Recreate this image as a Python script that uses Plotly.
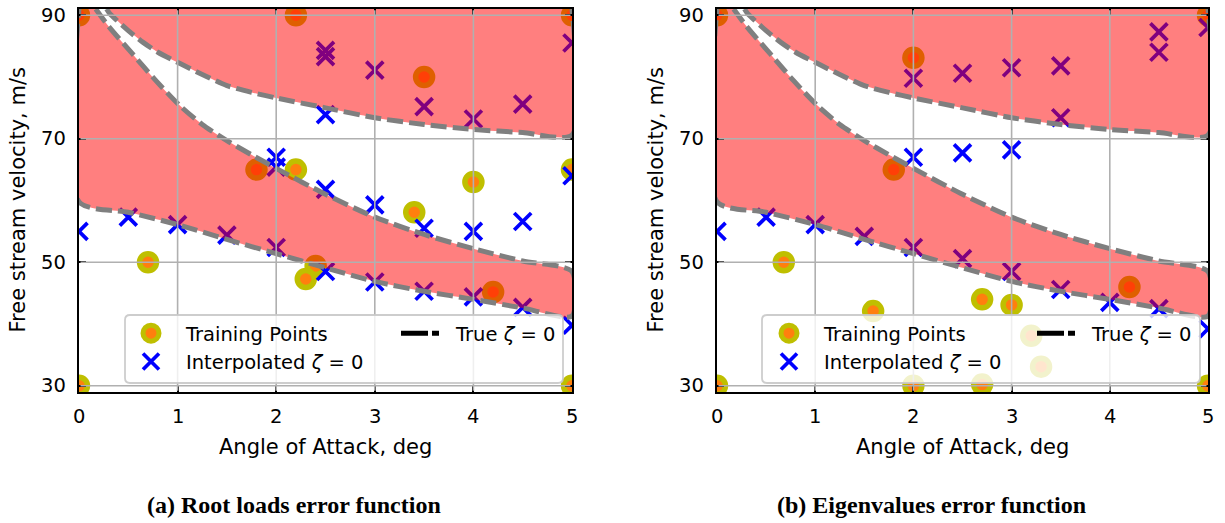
import plotly.graph_objects as go

W, H = 1225, 523

# ---------------- axes ----------------
x_ticks = [0, 1, 2, 3, 4, 5]
y_ticks = [30, 50, 70, 90]
x_range = [0, 5]
y_range = [29, 91]

# ---------------- true zeta = 0 curves ----------------
# upper branch A
a_x = [0.28, 0.31, 0.5, 0.65, 0.8, 1.02, 1.25, 1.5, 1.75, 2.0, 2.5, 3.0, 3.5, 4.0, 4.5, 5.0]
a_y = [91.0, 90.3, 87.5, 85.6, 84.0, 82.2, 80.4, 78.6, 77.5, 76.6, 75.0, 73.4, 72.3, 71.5, 71.0, 70.6]
# middle branch B
b_x = [0.17, 0.3, 0.55, 0.78, 1.02, 1.25, 1.5, 1.75, 2.0, 2.5, 3.0, 3.5, 4.0, 4.5, 5.0]
b_y = [91.0, 88.2, 83.6, 79.4, 75.4, 72.3, 69.7, 67.4, 65.2, 61.0, 57.3, 54.5, 52.2, 50.2, 48.5]
# lower branch C
c_x = [0.0, 0.5, 1.0, 1.5, 2.0, 2.5, 3.0, 3.5, 4.0, 4.5, 5.0]
c_y = [59.8, 58.1, 56.1, 53.7, 51.4, 49.1, 46.9, 45.3, 44.0, 42.6, 41.3]

# ---------------- panel (a): root loads ----------------
train_a_x = [0, 2.2, 5, 3.5, 1.8, 2.2, 5, 4.0, 3.4, 0.7, 2.4, 2.3, 4.2, 0, 5]
train_a_y = [90, 90, 90, 80, 65, 65, 65, 63, 58.1, 50, 49.4, 47.3, 45.2, 30, 30]
interp_a_x = [0, 0.5, 1.0, 1.5, 2.0, 2.0, 2.0, 2.5, 2.5, 2.5, 2.5, 2.5,
              3.0, 3.0, 3.0, 3.5, 3.5, 3.5, 4.0, 4.0, 4.0, 4.5, 4.5, 4.5, 5.0, 5.0, 5.0]
interp_a_y = [55.0, 57.3, 56.1, 54.4, 52.4, 65.4, 67.0, 48.5, 61.8, 73.9, 83.3, 84.3,
              46.8, 59.3, 81.1, 45.3, 55.5, 75.2, 44.4, 55.0, 73.2, 42.7, 56.6, 75.6, 39.8, 64.0, 85.5]

# ---------------- panel (b): eigenvalues ----------------
train_b_x = [0, 5, 2.0, 1.8, 0.68, 1.59, 2.0, 2.7, 3.0, 3.2, 3.3, 2.7, 4.2, 0, 5]
train_b_y = [90, 90, 83.1, 65.0, 50.0, 42.1, 30, 44.0, 43.1, 38.1, 33.1, 30.2, 46.0, 30, 30]
interp_b_x = [0, 0.5, 1.0, 1.5, 2.0, 2.0, 2.0, 2.5, 2.5, 2.5, 3.0, 3.0, 3.0,
              3.5, 3.5, 3.5, 4.0, 4.5, 4.5, 4.5, 5.0, 5.0]
interp_b_y = [55.0, 57.3, 56.1, 54.2, 52.4, 67.0, 79.8, 50.6, 67.7, 80.6, 48.5, 68.2, 81.5,
              45.6, 73.4, 81.8, 43.5, 42.5, 84.0, 87.3, 39.2, 88.0]

captions = ["<b>(a) Root loads error function</b>", "<b>(b) Eigenvalues error function</b>"]
x_title = "Angle of Attack, deg"
y_title = "Free stream velocity, m/s"

# ---------------- styles ----------------
ORANGE = "#ff7f0e"
OLIVE = "#bfbf00"
BLUE = "#0000ff"
RED_FILL = "rgba(255,0,0,0.5)"
GRID = "#b0b0b0"
FONT = "DejaVu Sans"
FS = 19.5

fig = go.Figure()

# region 1: between C and B (closing along top edge), region 2: above A
reg1_x = b_x + c_x[::-1] + [x_range[0]]
reg1_y = b_y + c_y[::-1] + [y_range[1]]
reg2_x = a_x + [x_range[1]]
reg2_y = a_y + [y_range[1]]

panels = [
    dict(xa="x", ya="y", tx=train_a_x, ty=train_a_y, ix=interp_a_x, iy=interp_a_y,
         leg_main="legend", leg_true="legend2"),
    dict(xa="x2", ya="y2", tx=train_b_x, ty=train_b_y, ix=interp_b_x, iy=interp_b_y,
         leg_main="legend3", leg_true="legend4"),
]

for p in panels:
    fig.add_trace(go.Scatter(
        x=p["tx"], y=p["ty"], mode="markers", name="Training Points",
        marker=dict(symbol="circle", size=17, color=ORANGE, line=dict(color=OLIVE, width=5.5)),
        xaxis=p["xa"], yaxis=p["ya"], legend=p["leg_main"], hoverinfo="skip"))
    fig.add_trace(go.Scatter(
        x=p["ix"], y=p["iy"], mode="markers", name="Interpolated <i>ζ</i> = 0",
        marker=dict(symbol="x-thin", size=17, color=BLUE, line=dict(color=BLUE, width=3.7)),
        xaxis=p["xa"], yaxis=p["ya"], legend=p["leg_main"], hoverinfo="skip"))
    for rx, ry in [(reg1_x, reg1_y), (reg2_x, reg2_y)]:
        fig.add_trace(go.Scatter(
            x=rx, y=ry, mode="lines", fill="toself", fillcolor=RED_FILL,
            line=dict(color="#7f7f7f", width=5, dash="16px,6px", shape="spline", smoothing=0.7),
            xaxis=p["xa"], yaxis=p["ya"], showlegend=False, hoverinfo="skip"))
    fig.add_trace(go.Scatter(
        x=[None], y=[None], mode="lines", name="True <i>ζ</i> = 0",
        line=dict(color="black", width=5, dash="27px,4px,7px,60px"),
        xaxis=p["xa"], yaxis=p["ya"], legend=p["leg_true"], hoverinfo="skip"))

# plot-area geometry (pixels)
top_px, bot_px = 9, 392
panel_px = [(79, 572), (717, 1208)]

axis_common = dict(
    showgrid=False, zeroline=False, showline=True, linecolor="black", linewidth=2,
    mirror="ticks", ticks="inside", ticklen=7, tickwidth=1.5, tickcolor="black",
    showticklabels=False, layer="above traces",
)

fig.update_layout(
    width=W, height=H, margin=dict(l=0, r=0, t=0, b=0),
    paper_bgcolor="white", plot_bgcolor="white",
    showlegend=True,
    xaxis=dict(domain=[panel_px[0][0] / W, panel_px[0][1] / W], range=x_range,
               tickvals=x_ticks, anchor="y", **axis_common),
    yaxis=dict(domain=[1 - bot_px / H, 1 - top_px / H], range=y_range,
               tickvals=y_ticks, anchor="x", **axis_common),
    xaxis2=dict(domain=[panel_px[1][0] / W, panel_px[1][1] / W], range=x_range,
                tickvals=x_ticks, anchor="y2", **axis_common),
    yaxis2=dict(domain=[1 - bot_px / H, 1 - top_px / H], range=y_range,
                tickvals=y_ticks, anchor="x2", **axis_common),
)

# tick labels placed on the axes' own scales
tick_font = dict(family=FONT, size=FS, color="black")
for p, (l, r) in zip(panels, panel_px):
    for xv in x_ticks:
        fig.add_annotation(x=xv, xref=p["xa"], y=1 - 416 / H, yref="paper",
                           text=str(xv), showarrow=False, xanchor="center", yanchor="middle",
                           font=tick_font)
    for yv in y_ticks:
        fig.add_annotation(x=(l - 11) / W, xref="paper", y=yv, yref=p["ya"],
                           text=str(yv), showarrow=False, xanchor="right", yanchor="middle",
                           font=tick_font)

leg_common = dict(bgcolor="rgba(0,0,0,0)", borderwidth=0, xanchor="left", yanchor="top",
                  font=dict(family=FONT, size=FS, color="black"), orientation="v",
                  tracegroupgap=0)
leg_top = 314
fig.update_layout(
    legend=dict(x=116 / W, y=1 - leg_top / H, itemwidth=60, **leg_common),
    legend2=dict(x=396 / W, y=1 - leg_top / H, itemwidth=50, **leg_common),
    legend3=dict(x=754 / W, y=1 - leg_top / H, itemwidth=60, **leg_common),
    legend4=dict(x=1032 / W, y=1 - leg_top / H, itemwidth=50, **leg_common),
)

# grid lines drawn above the red fill (like matplotlib)
for p in panels:
    for xv in x_ticks[1:-1]:
        fig.add_shape(type="line", xref=p["xa"], yref=p["ya"] + " domain",
                      x0=xv, x1=xv, y0=0.003, y1=0.997, layer="above",
                      line=dict(color=GRID, width=1.6))
    for yv in y_ticks:
        fig.add_shape(type="line", xref=p["xa"] + " domain", yref=p["ya"],
                      x0=0.003, x1=0.997, y0=yv, y1=yv, layer="above",
                      line=dict(color=GRID, width=1.6))


def rounded_box(x0, y0, x1, y1, r):
    def P(x, y):
        return f"{x / W:.5f},{1 - y / H:.5f}"
    return (f"M{P(x0 + r, y0)} L{P(x1 - r, y0)} Q{P(x1, y0)} {P(x1, y0 + r)} "
            f"L{P(x1, y1 - r)} Q{P(x1, y1)} {P(x1 - r, y1)} L{P(x0 + r, y1)} "
            f"Q{P(x0, y1)} {P(x0, y1 - r)} L{P(x0, y0 + r)} Q{P(x0, y0)} {P(x0 + r, y0)} Z")


for (bx0, bx1) in [(125, 563), (762, 1200)]:
    fig.add_shape(type="path", xref="paper", yref="paper",
                  path=rounded_box(bx0, 315, bx1, 383, 5), layer="above",
                  fillcolor="rgba(255,255,255,0.8)",
                  line=dict(color="rgba(200,200,200,0.9)", width=1.8))

# axis titles and captions
for i, (l, r) in enumerate(panel_px):
    fig.add_annotation(x=(l + r) / 2 / W, y=1 - 447 / H, xref="paper", yref="paper",
                       text=x_title, showarrow=False, xanchor="center", yanchor="middle",
                       font=dict(family=FONT, size=21, color="black"))
    fig.add_annotation(x=(l - 61) / W, y=1 - (top_px + bot_px) / 2 / H, xref="paper", yref="paper",
                       text=y_title, showarrow=False, textangle=-90, xanchor="center",
                       yanchor="middle", font=dict(family=FONT, size=21, color="black"))
cap_x = [294, 931]
for i in range(2):
    fig.add_annotation(x=cap_x[i] / W, y=1 - 505 / H, xref="paper", yref="paper",
                       text=captions[i], showarrow=False, xanchor="center", yanchor="middle",
                       font=dict(family="Liberation Serif", size=24, color="black"))

fig.write_html("out.html")
